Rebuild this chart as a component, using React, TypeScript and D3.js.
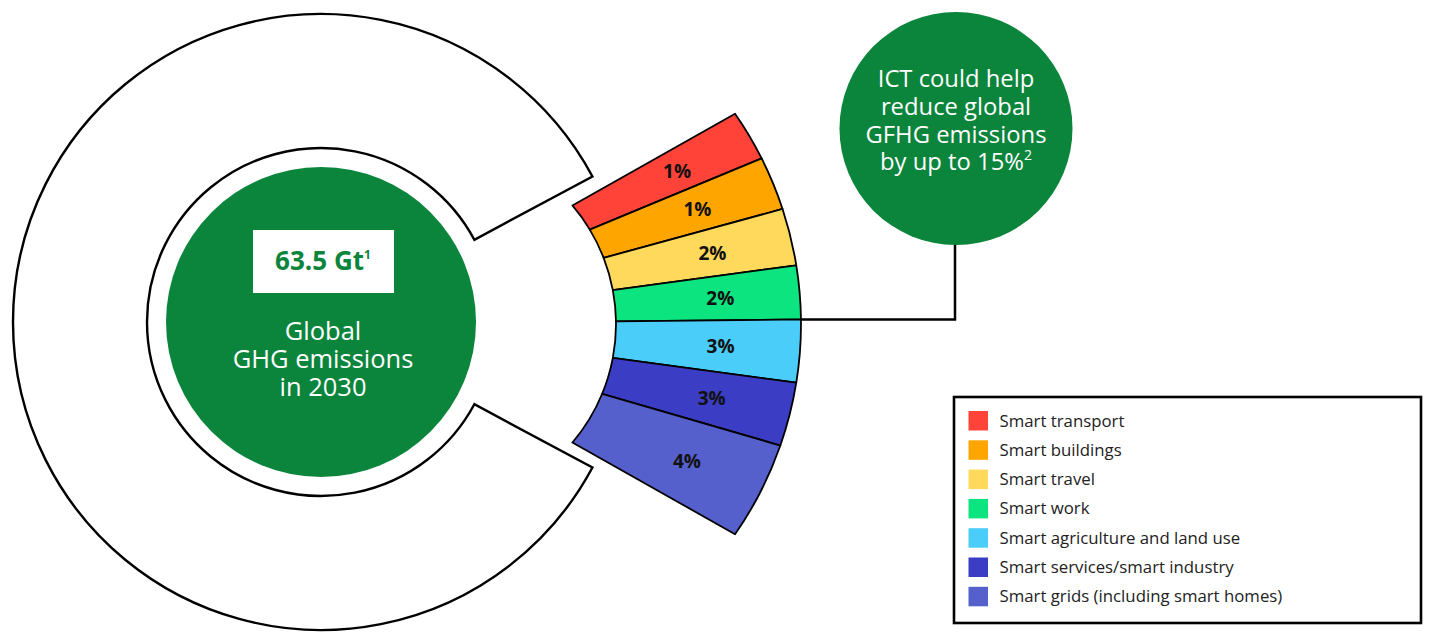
import React from "react";
import * as d3 from "d3";

// ---- data ----
const categories = [
  "Smart transport",
  "Smart buildings",
  "Smart travel",
  "Smart work",
  "Smart agriculture and land use",
  "Smart services/smart industry",
  "Smart grids (including smart homes)",
];
const shareLabels = ["1%", "1%", "2%", "2%", "3%", "3%", "4%"];
// relative angular weight of each sector
const sectorWeights = [6.9, 7.2, 7.6, 7.1, 8.3, 8.5, 13.2];
const colors = ["#ff4338", "#ffa500", "#fed95b", "#0be47f", "#4bcdf9", "#3b3ec5", "#5660cc"];
const totalLabel = "63.5 Gt";
const totalNote = "1";
const centerLines = ["Global", "GHG emissions", "in 2030"];
const calloutLines = ["ICT could help", "reduce global", "GFHG emissions", "by up to 15%"];
const calloutNote = "2";

const GREEN = "#0b843c";
const FONT = "'Open Sans', Lato, sans-serif";

export default function App() {
  const W = 1429, H = 632;
  const deg = Math.PI / 180;

  // big ring
  const ringC = { x: 321, y: 322 };
  const gap = 28.2 * deg;
  const ringPath = d3.arc()({
    innerRadius: 174,
    outerRadius: 308,
    startAngle: Math.PI / 2 + gap,
    endAngle: Math.PI / 2 - gap + 2 * Math.PI,
  } as any) as string;

  // fan
  const C1 = { x: 362, y: 324 }; // origin of the sector rays
  const C2 = { x: 433, y: 324 }; // centre of the sector arcs
  const rIn = 183, rOut = 368;
  const pie = d3
    .pie<number>()
    .sort(null)
    .value((d) => d)
    .startAngle(-29.4 * deg)
    .endAngle(29.4 * deg);
  const arcsData = pie(sectorWeights);

  const rayHit = (theta: number, R: number) => {
    const ux = Math.cos(theta), uy = Math.sin(theta);
    const dx = C1.x - C2.x, dy = C1.y - C2.y;
    const b = dx * ux + dy * uy;
    const c = dx * dx + dy * dy - R * R;
    const t = -b + Math.sqrt(b * b - c);
    return { x: C1.x + t * ux, y: C1.y + t * uy, t };
  };
  const angC2 = (p: { x: number; y: number }) => Math.atan2(p.y - C2.y, p.x - C2.x);

  const sectors = arcsData.map((a, i) => {
    const i0 = rayHit(a.startAngle, rIn);
    const o0 = rayHit(a.startAngle, rOut);
    const i1 = rayHit(a.endAngle, rIn);
    const o1 = rayHit(a.endAngle, rOut);
    const p = d3.path();
    p.moveTo(i0.x, i0.y);
    p.lineTo(o0.x, o0.y);
    p.arc(C2.x, C2.y, rOut, angC2(o0), angC2(o1), false);
    p.lineTo(i1.x, i1.y);
    p.arc(C2.x, C2.y, rIn, angC2(i1), angC2(i0), true);
    p.closePath();
    const mid = (a.startAngle + a.endAngle) / 2;
    const mi = rayHit(mid, rIn), mo = rayHit(mid, rOut);
    const t = mi.t + (mo.t - mi.t) * 0.57;
    return {
      d: p.toString(),
      color: colors[i],
      label: shareLabels[i],
      lx: C1.x + t * Math.cos(mid),
      ly: C1.y + t * Math.sin(mid),
    };
  });
  const joinPt = rayHit(arcsData[3].endAngle, rOut);

  // callout circle
  const call = { x: 956, y: 128.5, r: 116.5 };

  // legend
  const lg = { x: 954, y: 397, w: 467, h: 226 };
  const rowY = d3.scaleLinear().domain([0, 1]).range([411, 440.3]);

  return (
    <svg
      width={W}
      height={H}
      style={{ position: "absolute", left: 0, top: 0, background: "#fff" }}
      fontFamily={FONT}
    >
      <path
        d={ringPath}
        transform={`translate(${ringC.x},${ringC.y})`}
        fill="#fff"
        stroke="#000"
        strokeWidth={2.4}
        strokeLinejoin="miter"
      />
      <circle cx={ringC.x} cy={ringC.y} r={155} fill={GREEN} />
      <rect x={253} y={230} width={141} height={63} fill="#fff" />
      <text x={323} y={270} textAnchor="middle" fill={GREEN} fontWeight={700} fontSize={26}>
        {totalLabel}
        <tspan fontSize={12} dy={-11}>{totalNote}</tspan>
      </text>
      <text x={323} y={340} textAnchor="middle" fill="#fff" fontSize={25.5}>
        {centerLines.map((s, i) => (
          <tspan key={s} x={323} dy={i === 0 ? 0 : 28}>
            {s}
          </tspan>
        ))}
      </text>

      {sectors.map((s, i) => (
        <path key={i} d={s.d} fill={s.color} stroke="#000" strokeWidth={1.8} strokeLinejoin="round" />
      ))}
      {sectors.map((s, i) => (
        <text
          key={"l" + i}
          x={s.lx}
          y={s.ly}
          textAnchor="middle"
          dominantBaseline="central"
          fontWeight={700}
          fontSize={19}
          fill="#111"
        >
          {s.label}
        </text>
      ))}

      <polyline
        points={`${joinPt.x},${joinPt.y} ${call.x - 1},${joinPt.y} ${call.x - 1},${call.y + call.r - 2}`}
        fill="none"
        stroke="#000"
        strokeWidth={2.5}
      />
      <circle cx={call.x} cy={call.y} r={call.r} fill={GREEN} />
      <text x={call.x} y={87} textAnchor="middle" fill="#fff" fontSize={23.8}>
        {calloutLines.map((s, i) => (
          <tspan key={s} x={call.x} dy={i === 0 ? 0 : 27.8}>
            {s}
          </tspan>
        ))}
        <tspan fontSize={14} dy={-10}>{calloutNote}</tspan>
      </text>

      <rect x={lg.x} y={lg.y} width={lg.w} height={lg.h} fill="#fff" stroke="#000" strokeWidth={2.6} />
      {categories.map((c, i) => (
        <g key={c} transform={`translate(968.5,${rowY(i)})`}>
          <rect width={19.5} height={19.5} fill={colors[i]} />
          <text x={31} y={15.5} fontSize={16.8} fill="#222">
            {c}
          </text>
        </g>
      ))}
    </svg>
  );
}
